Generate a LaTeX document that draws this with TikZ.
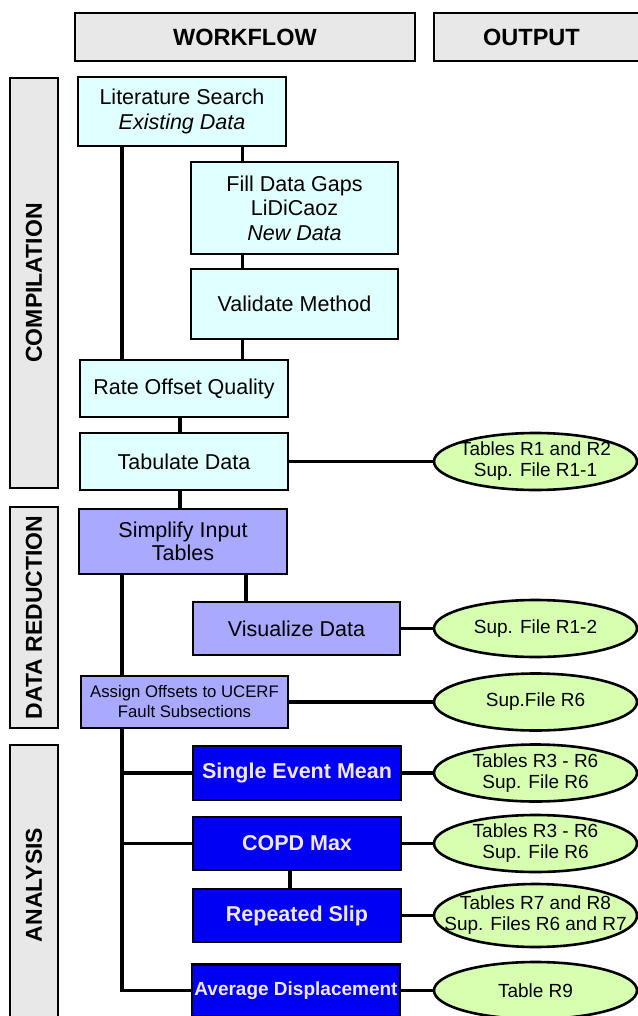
\documentclass[tikz,border=0pt]{standalone}
\usepackage{fontspec}
\setmainfont{Liberation Sans}
\usetikzlibrary{shapes.geometric}
\usetikzlibrary{calc}
\usepackage{xcolor}

\definecolor{headgray}{HTML}{E8E8E8}
\definecolor{cyanbox}{HTML}{E0FFFF}
\definecolor{lavbox}{HTML}{A9A9FF}
\definecolor{bluebox}{HTML}{0000F5}
\definecolor{bluetext}{HTML}{F2E6FF}
\definecolor{greenoval}{HTML}{D6FFB0}

% 椭圆内文字不撑大节点
\newcommand{\ovl}[1]{\makebox[0pt]{#1}}

\begin{document}
\begin{tikzpicture}[x=1pt, y=-1pt]
        % ================= 样式定义 =================
        \tikzset{
            % 顶部标题框
            headbox/.style={rectangle, draw=black, line width=2.6pt, fill=headgray, minimum height=48pt, inner sep=0pt},
            headtext/.style={font=\fontsize{23.5}{26}\selectfont\bfseries},
            % 左侧阶段框 (竖排文字)
            sidebox/.style={rectangle, draw=black, line width=2.6pt, fill=headgray, rotate=90, minimum height=48pt, inner sep=0pt, font=\fontsize{23}{26}\selectfont\bfseries},
            % 青色步骤框
            cbox/.style={rectangle, draw=black, line width=2.6pt, fill=cyanbox, minimum width=208pt, inner sep=0pt, align=center, font=\fontsize{21.5}{24.5}\selectfont},
            % 淡紫步骤框
            lbox/.style={rectangle, draw=black, line width=2.6pt, fill=lavbox, minimum width=208pt, inner sep=0pt, align=center, font=\fontsize{21.5}{23}\selectfont},
            % 深蓝分析框
            bbox/.style={rectangle, draw=black, line width=2.6pt, fill=bluebox, text=bluetext, minimum width=208pt, minimum height=53pt, inner sep=0pt, align=center, font=\fontsize{21.5}{24}\selectfont\bfseries},
            % 绿色输出椭圆
            oval/.style={ellipse, draw=black, line width=2.6pt, fill=greenoval, minimum width=203pt, minimum height=57pt, inner sep=0pt, align=center, font=\fontsize{19}{21}\selectfont},
            % 连线
            link/.style={line width=3.8pt, black}
        }

        \useasboundingbox (0,0) rectangle (637,1016);

        % ================= 竖向连线位置 =================
        \coordinate (spL) at (122,0);    % 左侧主干
        \coordinate (spM) at (242.5,0);  % 文献 -> 补数据 -> 验证
        \coordinate (spT) at (180,0);    % 评级 -> 列表 -> 简化
        \coordinate (spV) at (246,0);    % 简化 -> 可视化
        \coordinate (spR) at (290,0);    % COPD -> 重复滑移

        % ================= 标题与阶段 =================
        \node[headbox, headtext, minimum width=340pt] (wf) at (245,37) {WORKFLOW};
        \node[headbox, minimum width=240pt, label={[headtext, xshift=-22.5pt]center:OUTPUT}] (out) at (554,37) {};

        \node[sidebox, minimum width=410pt] (comp) at (34,283) {COMPILATION};
        \node[sidebox, minimum width=221pt] (dred) at (34,617.5) {DATA REDUCTION};
        \node[sidebox, minimum width=280pt] (anal) at (34,885) {ANALYSIS};

        % ================= 步骤框 =================
        \node[cbox, minimum height=69pt] (lit) at (182,111.5) {Literature Search\\\textit{Existing Data}};
        \node[cbox, minimum width=207pt, minimum height=92pt] (fill) at (294.5,208) {Fill Data Gaps\\LiDiCaoz\\\textit{New Data}};
        \node[cbox, minimum width=207pt, minimum height=70pt] (valid) at (294.5,304) {Validate Method};
        \node[cbox, minimum height=57pt] (rate) at (184,388.5) {Rate Offset Quality};
        \node[cbox, minimum height=57pt] (tab) at (184,461.5) {Tabulate Data};

        \node[lbox, minimum height=65pt] (simp) at (183,541.5) {Simplify Input\\Tables};
        \node[lbox, minimum width=207pt, minimum height=53pt] (vis) at (296.5,628.5) {Visualize Data};
        \node[lbox, minimum width=207pt, minimum height=52pt, font=\fontsize{16.75}{20}\selectfont] (assign) at (184.5,702) {Assign Offsets to UCERF\\Fault Subsections};

        \node[bbox, minimum height=54pt] (sem) at (297,773) {Single Event Mean};
        \node[bbox] (copd) at (297,843.5) {COPD Max};
        \node[bbox] (rep) at (297,915.5) {Repeated Slip};
        \node[bbox, minimum height=52pt, font=\fontsize{19}{22}\selectfont\bfseries] (avg) at (296,990.5) {Average Displacement};

        % ================= 输出椭圆 =================
        \node[oval] (o_tab) at (535.5,461.5) {\ovl{Tables R1 and R2}\\\ovl{Sup. File R1-1}};
        \node[oval] (o_vis) at (535.5,628.5) {\ovl{Sup. File R1-2}};
        \node[oval] (o_assign) at (535.5,702) {\ovl{Sup.File R6}};
        \node[oval] (o_sem) at (535.5,773) {\ovl{Tables R3 - R6}\\\ovl{Sup. File R6}};
        \node[oval] (o_copd) at (535.5,843.5) {\ovl{Tables R3 - R6}\\\ovl{Sup. File R6}};
        \node[oval, minimum height=63pt] (o_rep) at (535.5,915.5) {\ovl{Tables R7 and R8}\\\ovl{Sup. Files R6 and R7}};
        \node[oval] (o_avg) at (535.5,990.5) {\ovl{Table R9}};

        % ================= 连线 =================
        % 1. 汇编阶段
        \draw[link] (lit.south -| spL) -- (rate.north -| spL);
        \draw[link] (lit.south -| spM) -- (fill.north -| spM);
        \draw[link] (fill.south -| spM) -- (valid.north -| spM);
        \draw[link] (valid.south -| spM) -- (rate.north -| spM);
        \draw[link] (rate.south -| spT) -- (tab.north -| spT);
        \draw[link] (tab.south -| spT) -- (simp.north -| spT);

        % 2. 数据整理阶段
        \draw[link] (simp.south -| spV) -- (vis.north -| spV);
        \draw[link] (simp.south -| spL) -- (assign.north -| spL);

        % 3. 分析阶段 (主干向下分支)
        \draw[link] (assign.south -| spL) |- (avg.west);
        \draw[link] (spL |- sem.west) -- (sem.west);
        \draw[link] (spL |- copd.west) -- (copd.west);
        \draw[link] (copd.south -| spR) -- (rep.north -| spR);

        % 4. 指向输出
        \draw[link] (tab.east) -- (o_tab.west);
        \draw[link] (vis.east) -- (o_vis.west);
        \draw[link] (assign.east) -- (o_assign.west);
        \draw[link] (sem.east) -- (o_sem.west);
        \draw[link] (copd.east) -- (o_copd.west);
        \draw[link] (rep.east) -- (o_rep.west);
        \draw[link] (avg.east) -- (o_avg.west);

\end{tikzpicture}
\end{document}
